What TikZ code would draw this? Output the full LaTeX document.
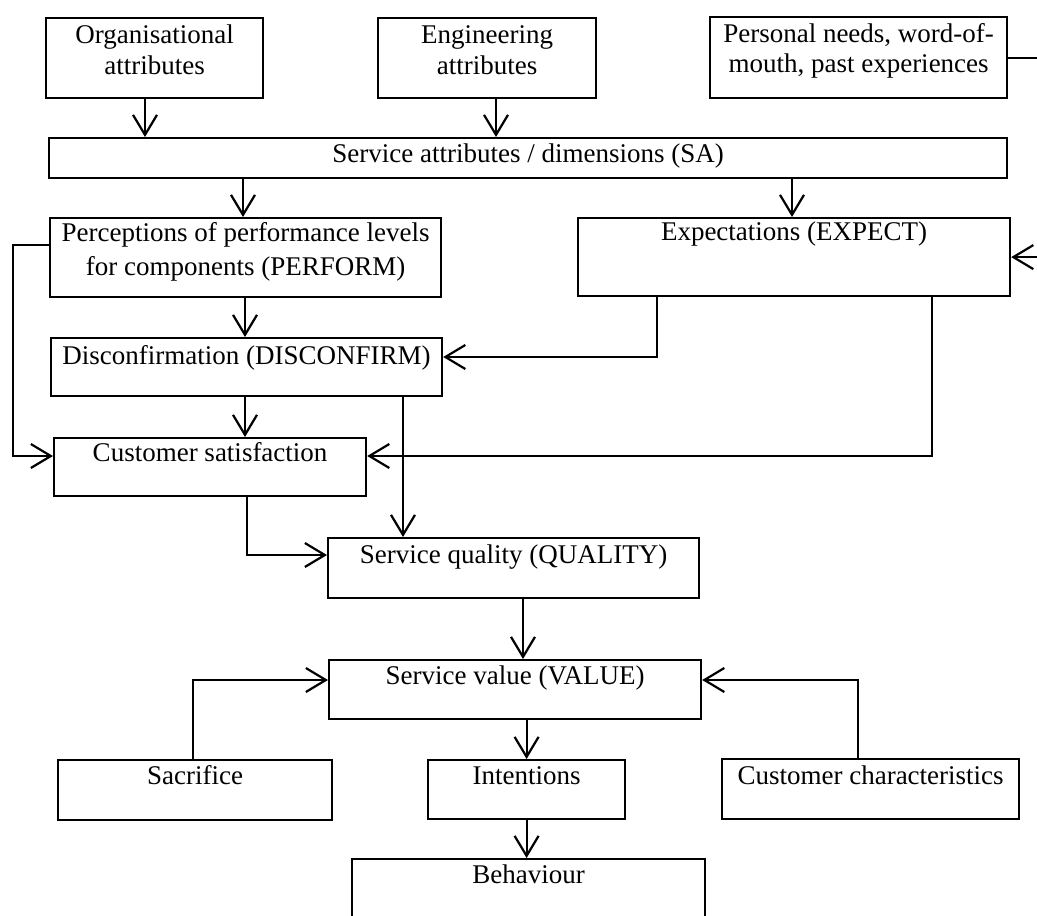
\documentclass[tikz,border=0pt]{standalone}
\usepackage{fontspec}
\setmainfont{Liberation Serif}
\usetikzlibrary{arrows.meta,calc}
\tikzset{
  box/.style={draw, line width=2.2pt, rectangle, inner sep=0pt, anchor=north west},
  txt/.style={inner sep=0pt, font=\fontsize{27}{31}\selectfont, align=center, anchor=base},
  arr/.style={line width=2.2pt, -{Straight Barb[length=20pt,width=24pt]}},
}
\begin{document}
\begin{tikzpicture}[x=1pt,y=-1pt]
\useasboundingbox (0,0) rectangle (1037,916);
% boxes
\node[box, minimum width=217pt, minimum height=80pt] (org) at (45,17) {};
\node[box, minimum width=218pt, minimum height=80pt] (eng) at (377,17) {};
\node[box, minimum width=297pt, minimum height=81pt] (pers) at (709,16) {};
\node[box, minimum width=958pt, minimum height=40pt] (sa) at (48,137) {};
\node[box, minimum width=391pt, minimum height=79pt] (perf) at (49,217) {};
\node[box, minimum width=432pt, minimum height=78pt] (exp) at (577,217) {};
\node[box, minimum width=391pt, minimum height=58pt] (dis) at (50,337) {};
\node[box, minimum width=312pt, minimum height=58pt] (cs) at (53,437) {};
\node[box, minimum width=371pt, minimum height=60pt] (sq) at (327,537) {};
\node[box, minimum width=372pt, minimum height=59pt] (sv) at (328,659) {};
\node[box, minimum width=274pt, minimum height=60pt] (sac) at (57,759) {};
\node[box, minimum width=197pt, minimum height=59pt] (int) at (427,759) {};
\node[box, minimum width=297pt, minimum height=60pt] (cc) at (721,758) {};
\node[box, minimum width=353pt, minimum height=60pt] (beh) at (351,858) {};
% texts
\node[txt] (orgt) at ($(org.north)+(0,57)$) {Organisational\\attributes};
\node[txt] (engt) at ($(eng.north)+(0,57)$) {Engineering\\attributes};
\node[txt, font=\fontsize{27}{30}\selectfont] (perst) at ($(pers.north)+(0,56)$) {Personal needs, word-of-\\mouth, past experiences};
\node[txt] (sat) at ($(sa.north)+(0,25)$) {Service attributes / dimensions (SA)};
\node[txt, font=\fontsize{27}{34}\selectfont] (perft) at ($(perf.north)+(0,58)$) {Perceptions of performance levels\\for components (PERFORM)};
\node[txt] (expt) at ($(exp.north)+(0,23)$) {Expectations (EXPECT)};
\node[txt] (dist) at ($(dis.north)+(0,27)$) {Disconfirmation (DISCONFIRM)};
\node[txt] (cst) at ($(cs.north)+(0,24)$) {Customer satisfaction};
\node[txt] (sqt) at ($(sq.north)+(0,26)$) {Service quality (QUALITY)};
\node[txt] (svt) at ($(sv.north)+(0,25)$) {Service value (VALUE)};
\node[txt] (sact) at ($(sac.north)+(0,25)$) {Sacrifice};
\node[txt] (intt) at ($(int.north)+(0,25)$) {Intentions};
\node[txt] (cct) at ($(cc.north)+(0,26)$) {Customer characteristics};
\node[txt] (beht) at ($(beh.north)+(0,25)$) {Behaviour};
% connector start points
\coordinate (a1) at ($(org.south west)+(100,0)$);
\coordinate (a2) at ($(eng.south west)+(119,0)$);
\coordinate (a3) at ($(sa.south west)+(195,0)$);
\coordinate (a4) at ($(sa.south west)+(744,0)$);
\coordinate (a6) at ($(perf.south west)+(196,0)$);
\coordinate (a10) at ($(dis.south west)+(195,0)$);
\coordinate (a11) at ($(dis.south west)+(353,0)$);
\coordinate (a13) at ($(sq.south west)+(196,0)$);
% connectors
\draw[arr] (a1) -- (a1 |- sa.north);
\draw[arr] (a2) -- (a2 |- sa.north);
\draw[arr] (a3) -- (a3 |- perf.north);
\draw[arr] (a4) -- (a4 |- exp.north);
\draw[arr] (pers.east) -- ++(60,0) |- (exp.east);
\draw[arr] (a6) -- (a6 |- dis.north);
\draw[arr] ($(perf.north west)+(0,28)$) -- ++(-36,0) |- ($(cs.north west)+(0,19)$);
\draw[arr] ($(exp.south west)+(80,0)$) |- ($(dis.north east)+(0,20)$);
\draw[arr] ($(exp.south west)+(355,0)$) |- ($(cs.north east)+(0,19)$);
\draw[arr] (a10) -- (a10 |- cs.north);
\draw[arr] (a11) -- (a11 |- sq.north);
\draw[arr] ($(cs.south west)+(194,0)$) |- ($(sq.north west)+(0,18)$);
\draw[arr] (a13) -- (a13 |- sv.north);
\draw[arr] ($(sac.north west)+(136,0)$) |- ($(sv.north west)+(0,21)$);
\draw[arr] ($(cc.north west)+(137,0)$) |- ($(sv.north east)+(0,21)$);
\draw[arr] (sv.south -| int.north) -- (int.north);
\draw[arr] (int.south) -- (int.south |- beh.north);
\end{tikzpicture}
\end{document}
